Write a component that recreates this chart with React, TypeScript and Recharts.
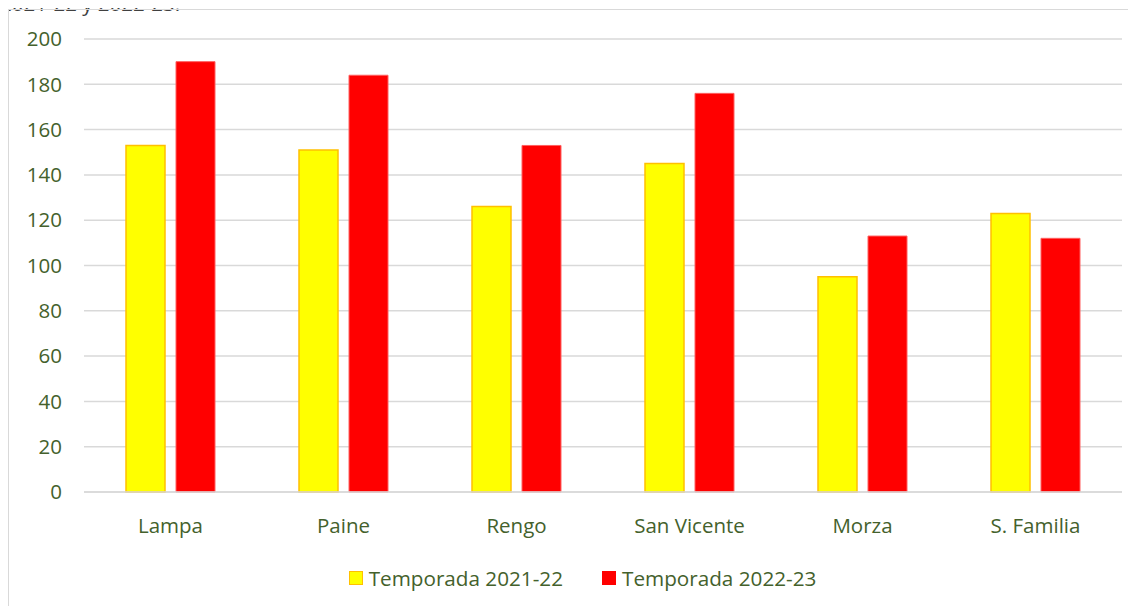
import { BarChart, Bar, XAxis, YAxis, CartesianGrid, Legend } from "recharts"

// Categories and series
const localidades = ["Lampa", "Paine", "Rengo", "San Vicente", "Morza", "S. Familia"]
const temporada2122 = [153, 151, 126, 145, 95, 123]
const temporada2223 = [190, 184, 153, 176, 113, 112]
const yTicks = [0, 20, 40, 60, 80, 100, 120, 140, 160, 180, 200]

const data = localidades.map((name, i) => ({
    name,
    t2122: temporada2122[i],
    t2223: temporada2223[i],
}))

const textColor = "#44612c"
const gridColor = "#d9d9d9"
const font = "'Open Sans', sans-serif"

const CustomLegend = () => (
    <div
        style={{
            display: "flex",
            justifyContent: "center",
            alignItems: "center",
            paddingLeft: 21,
            height: 27,
            fontFamily: font,
            fontSize: 20.7,
            color: textColor,
        }}
    >
        <div style={{ display: "flex", alignItems: "center", marginRight: 39 }}>
            <div style={{ width: 12, height: 12, background: "#FFFF00", border: "1.5px solid #FFC000", marginRight: 6 }}></div>
            <span>Temporada 2021-22</span>
        </div>
        <div style={{ display: "flex", alignItems: "center" }}>
            <div style={{ width: 14, height: 14, background: "#FF0000", marginRight: 6 }}></div>
            <span>Temporada 2022-23</span>
        </div>
    </div>
)

export default function App() {
    return (
        <div style={{ position: "relative", width: 1128, height: 598 }}>
            {/* title line cut off at the top of the page */}
            <div
                style={{
                    position: "absolute",
                    top: -18,
                    left: -8,
                    fontFamily: font,
                    fontSize: 20.5,
                    lineHeight: "27px",
                    color: "#404040",
                    whiteSpace: "nowrap",
                }}
            >
                2021-22 y 2022-23.
            </div>
            <div style={{ position: "absolute", top: 0, left: 0, width: 1128, height: 598, overflow: "hidden" }}>
                <div
                    style={{
                        position: "absolute",
                        top: 1,
                        left: 0,
                        width: 1200,
                        height: 700,
                        border: `1px solid ${gridColor}`,
                        boxSizing: "border-box",
                    }}
                ></div>
                <BarChart
                    width={1128}
                    height={598}
                    data={data}
                    margin={{ top: 31, right: 14, left: 16, bottom: 57 }}
                    barSize={39}
                    barGap={11}
                    style={{ position: "absolute", top: 0, left: 0 }}
                >
                    <CartesianGrid vertical={false} stroke={gridColor} strokeWidth={1.5} />
                    <XAxis
                        dataKey="name"
                        height={30}
                        axisLine={{ stroke: gridColor, strokeWidth: 1.5 }}
                        tickLine={false}
                        tickMargin={20}
                        tick={{ fill: textColor, fontSize: 20.5, fontFamily: font }}
                        interval={0}
                    />
                    <YAxis
                        width={60}
                        domain={[0, 200]}
                        ticks={yTicks}
                        axisLine={false}
                        tickLine={false}
                        tickMargin={16}
                        tick={{ fill: textColor, fontSize: 20.5, fontFamily: font }}
                    />
                    <Legend content={<CustomLegend />} wrapperStyle={{ top: 556, left: 0, width: 1128 }} />
                    <Bar dataKey="t2122" fill="#FFFF00" stroke="#FFC000" strokeWidth={1.5} isAnimationActive={false} />
                    <Bar dataKey="t2223" fill="#FF0000" stroke="#FF6060" strokeWidth={1} isAnimationActive={false} />
                </BarChart>
            </div>
        </div>
    )
}
